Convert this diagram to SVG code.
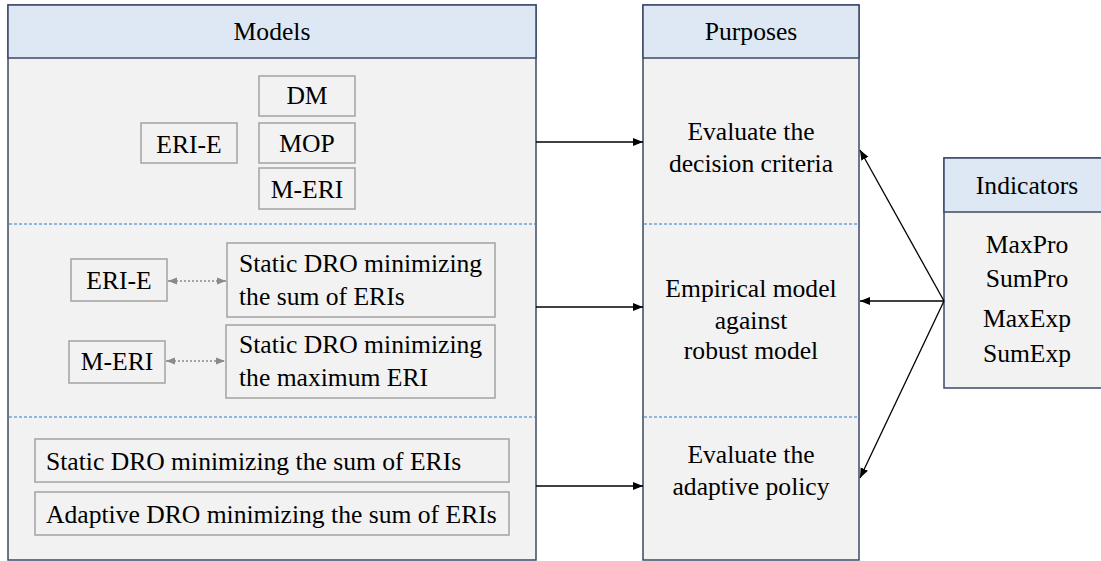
<svg xmlns="http://www.w3.org/2000/svg" width="1101" height="561" viewBox="0 0 1101 561" font-family="Liberation Serif, Times New Roman, serif">
<style>
text{font-family:"Liberation Serif","Times New Roman",serif}
.t{font-size:25.6px;fill:#000}
.c{text-anchor:middle}
.panel{fill:#f2f2f2;stroke:#3b4a68;stroke-width:1.5}
.hdr{fill:#dde8f4;stroke:#3b4a68;stroke-width:1.5}
.sep{stroke:#6fa3d8;stroke-width:1.3;stroke-dasharray:3 2;fill:none}
.box{fill:#f2f2f2;stroke:#a3a3a3;stroke-width:1.5}
.conn{stroke:#000;stroke-width:1.3;fill:none}
.dot{stroke:#8a8a8a;stroke-width:1.3;stroke-dasharray:2 2;fill:none}
</style>
<defs>
<marker id="ah" viewBox="0 0 10 10" refX="10" refY="5" markerWidth="10" markerHeight="10" markerUnits="userSpaceOnUse" orient="auto">
<path d="M0,1 L10,5 L0,9 Z" fill="#000"/>
</marker>
<marker id="gh" viewBox="0 0 10 10" refX="10" refY="5" markerWidth="9" markerHeight="9" markerUnits="userSpaceOnUse" orient="auto-start-reverse">
<path d="M0,1 L10,5 L0,9 Z" fill="#8a8a8a"/>
</marker>
</defs>

<g id="models">
<rect class="panel" x="8" y="5" width="528" height="555"/>
<rect class="hdr" x="8" y="5" width="528" height="53"/>
<text class="t c" x="272" y="40">Models</text>
<line class="sep" x1="9" y1="224" x2="535" y2="224"/>
<line class="sep" x1="9" y1="417" x2="535" y2="417"/>
</g>

<g id="m-dm"><rect class="box" x="259" y="76" width="96" height="40"/><text class="t c" x="307" y="104">DM</text></g>
<g id="m-mop"><rect class="box" x="259" y="123" width="96" height="40"/><text class="t c" x="307" y="152">MOP</text></g>
<g id="m-meri"><rect class="box" x="259" y="168" width="96" height="41"/><text class="t c" x="307" y="198">M-ERI</text></g>
<g id="m-erie"><rect class="box" x="141" y="123" width="96" height="40"/><text class="t c" x="189" y="153">ERI-E</text></g>

<g id="m2-erie"><rect class="box" x="71" y="259" width="96" height="42"/><text class="t c" x="119" y="289">ERI-E</text></g>
<g id="m2-static-sum"><rect class="box" x="227" y="243" width="268" height="74"/><text class="t" x="239" y="272">Static DRO minimizing</text><text class="t" x="239" y="305">the sum of ERIs</text></g>
<g id="m2-meri"><rect class="box" x="69" y="341" width="96" height="42"/><text class="t c" x="117" y="370">M-ERI</text></g>
<g id="m2-static-max"><rect class="box" x="226" y="325" width="269" height="73"/><text class="t" x="239" y="353">Static DRO minimizing</text><text class="t" x="239" y="386">the maximum ERI</text></g>

<g id="m3-static"><rect class="box" x="35" y="439" width="474" height="43"/><text class="t" x="46" y="470">Static DRO minimizing the sum of ERIs</text></g>
<g id="m3-adaptive"><rect class="box" x="35" y="492" width="474" height="43"/><text class="t" x="46" y="523">Adaptive DRO minimizing the sum of ERIs</text></g>

<g id="purposes">
<rect class="panel" x="643" y="5" width="216" height="555"/>
<rect class="hdr" x="643" y="5" width="216" height="53"/>
<text class="t c" x="751" y="40">Purposes</text>
<line class="sep" x1="644" y1="224" x2="858" y2="224"/>
<line class="sep" x1="644" y1="417" x2="858" y2="417"/>
<text class="t c" x="751" y="140">Evaluate the</text>
<text class="t c" x="751" y="172">decision criteria</text>
<text class="t c" x="751" y="297">Empirical model</text>
<text class="t c" x="751" y="329">against</text>
<text class="t c" x="751" y="359">robust model</text>
<text class="t c" x="751" y="463">Evaluate the</text>
<text class="t c" x="751" y="495">adaptive policy</text>
</g>

<g id="indicators">
<rect class="panel" x="944" y="158" width="168" height="230"/>
<rect class="hdr" x="944" y="158" width="168" height="54"/>
<text class="t c" x="1027" y="194">Indicators</text>
<text class="t c" x="1027" y="253">MaxPro</text>
<text class="t c" x="1027" y="287">SumPro</text>
<text class="t c" x="1027" y="327">MaxExp</text>
<text class="t c" x="1027" y="362">SumExp</text>
</g>

<g id="connectors">
<line class="conn" x1="536" y1="142" x2="643" y2="142" marker-end="url(#ah)"/>
<line class="conn" x1="536" y1="307" x2="643" y2="307" marker-end="url(#ah)"/>
<line class="conn" x1="536" y1="486" x2="643" y2="486" marker-end="url(#ah)"/>
<line class="conn" x1="944" y1="301" x2="860" y2="150" marker-end="url(#ah)"/>
<line class="conn" x1="944" y1="301" x2="860" y2="301" marker-end="url(#ah)"/>
<line class="conn" x1="944" y1="301" x2="860" y2="478" marker-end="url(#ah)"/>
<line class="dot" x1="168" y1="281" x2="226" y2="281" marker-start="url(#gh)" marker-end="url(#gh)"/>
<line class="dot" x1="166" y1="361" x2="225" y2="361" marker-start="url(#gh)" marker-end="url(#gh)"/>
</g>
</svg>
